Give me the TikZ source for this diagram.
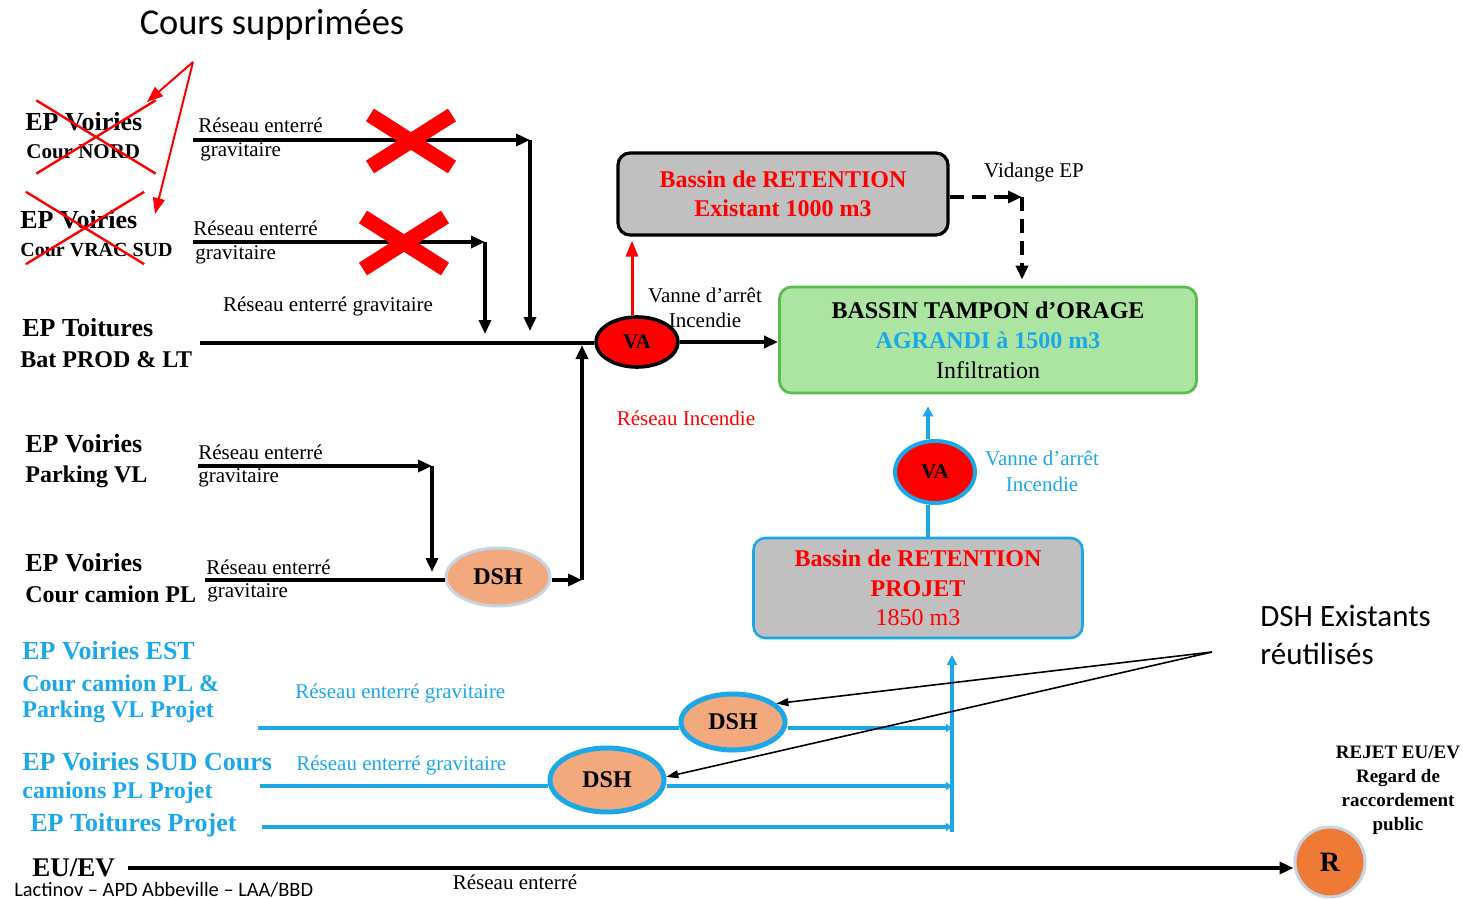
\documentclass[tikz,border=0pt]{standalone}
\usepackage{fontspec}
\setmainfont{Liberation Serif}
\newfontfamily\calibri{Carlito}
\usetikzlibrary{arrows.meta,shapes.geometric,shapes.misc}
\definecolor{cblue}{HTML}{1CA8E8}
\definecolor{cred}{HTML}{FF0000}
\definecolor{corange}{HTML}{F3A97E}
\definecolor{cgray}{HTML}{C0C0C0}
\definecolor{cgreen}{HTML}{ACE5A2}
\definecolor{cgreenb}{HTML}{57BD4C}
\definecolor{rorange}{HTML}{EE7A35}
\definecolor{cshadow}{HTML}{C5D5E6}
\newcommand\fz[1]{\fontsize{#1}{#1}\selectfont}
\begin{document}
\begin{tikzpicture}[x=0.5pt,y=-0.5pt,
 lbl/.style={inner sep=0pt,anchor=west},
 ctr/.style={inner sep=0pt},
 flow/.style={line width=2pt,-{Triangle[length=7pt,width=6pt]}},
 bline/.style={draw=cblue,line width=2pt},
 bflow/.style={draw=cblue,line width=2pt,-{Triangle[length=5pt,width=5pt]}},
 pointer/.style={line width=0.8pt,-{Triangle[length=6pt,width=4pt]}},
 redptr/.style={draw=cred,line width=1pt,-{Triangle[length=8pt,width=6pt]}},
 bigx/.style={cross out,draw=cred,line width=7.5pt,inner sep=0pt},
 thinx/.style={cross out,draw=cred,line width=1.2pt,inner sep=0pt},
 tank/.style={rounded corners=6pt,inner sep=0pt,align=center,font=\bfseries\fz{12}},
 dsh/.style={ellipse,fill=corange,inner sep=0pt,font=\bfseries\fz{12}},
 valve/.style={ellipse,fill=cred,inner sep=0pt,font=\bfseries\fz{10.5}},
 hd/.style={lbl,font=\bfseries\fz{13}},
 sub/.style={lbl,font=\bfseries\fz{12}},
 net/.style={lbl,font=\fz{10.5}},
 netc/.style={ctr,font=\fz{10.5}},
]
\path[use as bounding box] (0,0) rectangle (1463,899);

% title and red pointers
\node[ctr,font=\calibri\fz{18.2}] (titre) at (272,25) {Cours supprimées};
\coordinate (apex) at (193,62);
\coordinate (tipA) at (147,102);
\coordinate (tipB) at (155,214);

% left labels (black)
\node[hd] (nordA) at (25,122) {EP Voiries};
\node[lbl,font=\bfseries\fz{10.5}] (nordB) at (26,152) {Cour NORD};
\node[hd] (sudA) at (20,220) {EP Voiries};
\node[lbl,font=\bfseries\fz{10}] (sudB) at (20,250) {Cour VRAC SUD};
\node[hd] (toitA) at (22,328) {EP Toitures};
\node[sub] (toitB) at (20,360) {Bat PROD \& LT};
\node[hd] (parkA) at (25,444) {EP Voiries};
\node[sub] (parkB) at (25,477) {Parking VL};
\node[hd] (camA) at (25,563) {EP Voiries};
\node[sub] (camB) at (25,594) {Cour camion PL};

% left labels (blue)
\node[hd,text=cblue] (estA) at (22,651) {EP Voiries EST};
\node[sub,text=cblue] (estB) at (22,683) {Cour camion PL \&};
\node[sub,text=cblue] (estC) at (22,712) {Parking VL Projet};
\node[hd,text=cblue] (sudpA) at (22,762) {EP Voiries SUD Cours};
\node[sub,text=cblue] (sudpB) at (22,793) {camions PL Projet};
\node[hd,text=cblue] (toitp) at (30,825) {EP Toitures Projet};
\node[lbl,font=\bfseries\fz{13.5}] (euev) at (32,868) {EU/EV};
\node[lbl,font=\calibri\fz{10.2}] (cartouche) at (14,890) {Lactinov – APD Abbeville – LAA/BBD};

% crossed-out sources
\node[thinx,minimum width=58.5pt,minimum height=35.5pt] (xnord) at (96,137) {};
\node[thinx,minimum width=58pt,minimum height=35pt] (xsud) at (85,228) {};
\draw[redptr] (apex) -- (tipA);
\draw[redptr] (apex) -- (tipB);

% tanks
\node[tank,draw=black,line width=1.6pt,fill=cgray,minimum width=165pt,minimum height=41pt,text=cred] (retA) at (783,194) {Bassin de RETENTION\\[2.5pt]Existant 1000 m3};
\node[tank,draw=cgreenb,line width=1.4pt,fill=cgreen,minimum width=208.5pt,minimum height=53pt] (tampon) at (988,340) {BASSIN TAMPON d’ORAGE\\[3pt]\textcolor{cblue}{AGRANDI à 1500 m3}\\[3pt]{\mdseries Infiltration}};
\node[tank,draw=cblue,line width=1.3pt,fill=cgray,minimum width=164.5pt,minimum height=50pt,text=cred] (projet) at (918,588) {Bassin de RETENTION\\[2.7pt]PROJET\\[2.7pt]{\mdseries 1850 m3}};

% valves, separators, manhole
\node[valve,draw=black,line width=1.8pt,minimum width=41pt,minimum height=25pt] (va1) at (637,342) {VA};
\node[valve,draw=cblue,line width=2pt,minimum width=40pt,minimum height=31pt] (va2) at (935,472) {VA};
\node[dsh,draw=cshadow,line width=1.5pt,minimum width=52pt,minimum height=29pt] (dsh0) at (498,577) {DSH};
\node[dsh,draw=cblue,line width=2.5pt,minimum width=52pt,minimum height=28pt] (dsh1) at (733,722) {DSH};
\node[dsh,draw=cblue,line width=2.5pt,minimum width=57pt,minimum height=32pt] (dsh2) at (607,780) {DSH};
\node[circle,fill=rorange,draw=cshadow,line width=1.5pt,minimum size=35pt,inner sep=0pt,font=\bfseries\fz{14}] (regard) at (1330,862) {R};

% black network
\coordinate (s1) at (193,140); \coordinate (k1) at (530,140); \coordinate (e1) at (530,331);
\coordinate (s2) at (193,242); \coordinate (k2) at (485,242); \coordinate (e2) at (485,334);
\coordinate (s3) at (200,343);
\coordinate (s4) at (198,466); \coordinate (k4) at (432,466); \coordinate (e4) at (432,572);
\coordinate (s5) at (205,580);
\coordinate (k5) at (582,580); \coordinate (e5) at (582,345);
\draw[flow] (s1) -- (k1);
\draw[flow] (k1) -- (e1);
\draw[flow] (s2) -- (k2);
\draw[flow] (k2) -- (e2);
\draw[line width=2pt] (s3) -- (s3 -| va1.west);
\draw[flow] (va1.east) -- (va1.east -| tampon.west);
\draw[flow] (s4) -- (k4);
\draw[flow] (k4) -- (e4);
\draw[line width=2pt] (s5) -- (s5 -| dsh0.west);
\draw[flow] (dsh0.east |- k5) -- (k5);
\draw[flow] (k5) -- (e5);
\draw[redptr,line width=1.5pt] ([xshift=-2.5pt]va1.north) -- ([xshift=-2.5pt,yshift=-2pt]va1.north |- retA.south);

% dashed emptying
\coordinate (k6) at (1022,197);
\draw[flow,dash pattern=on 7pt off 4pt,line width=1.8pt] (k6 -| retA.east) -- (k6);
\draw[flow,dash pattern=on 7pt off 4pt,line width=1.8pt] (k6) -- ([yshift=3pt]k6 |- tampon.north);

% blue network
\coordinate (bx) at (928,0);
\draw[bline] (projet.north -| bx) -- (va2.south -| bx);
\draw[bflow] (va2.north -| bx) -- ([yshift=-6pt]tampon.south -| bx);
\coordinate (bt) at (952,832); \coordinate (bu) at (952,655);
\draw[bflow] (bt) -- (bu);
\coordinate (h1s) at (258,728); \coordinate (h1e) at (952,728);
\coordinate (h2s) at (260,786); \coordinate (h2e) at (952,786);
\coordinate (h3s) at (262,827); \coordinate (h3e) at (952,827);
\draw[bline] (h1s) -- (dsh1.west |- h1s);
\draw[bflow,-{Triangle[length=3pt,width=4pt]}] (dsh1.east |- h1s) -- (h1e);
\draw[bline] (h2s) -- (dsh2.west |- h2s);
\draw[bflow,-{Triangle[length=3pt,width=4pt]}] (dsh2.east |- h2s) -- (h2e);
\draw[bflow,-{Triangle[length=3pt,width=4pt]}] (h3s) -- (h3e);

% EU/EV
\coordinate (s9) at (128,868);
\draw[flow,line width=2.4pt] (s9) -- (s9 -| regard.west);

% pointers to reused separators
\node[lbl,font=\calibri\fz{15.5}] (dshA) at (1260,616) {DSH Existants};
\node[lbl,font=\calibri\fz{15.5}] (dshB) at (1260,654) {réutilisés};
\coordinate (ptr) at (1212,652);
\draw[pointer] (ptr) -- (dsh1.23);
\draw[pointer] (ptr) -- (dsh2.3);

% network labels
\node[net] (l1a) at (198,125) {Réseau enterré};
\node[net] (l1b) at (200,152) {gravitaire};
\node[net] (l2a) at (193,228) {Réseau enterré};
\node[net] (l2b) at (195,255) {gravitaire};
\node[netc] (l3) at (328,306) {Réseau enterré gravitaire};
\node[net] (l4a) at (198,452) {Réseau enterré};
\node[net] (l4b) at (198,478) {gravitaire};
\node[net] (l5a) at (206,567) {Réseau enterré};
\node[net] (l5b) at (207,593) {gravitaire};
\node[net,text=cblue] (l6) at (295,693) {Réseau enterré gravitaire};
\node[net,text=cblue] (l7) at (296,765) {Réseau enterré gravitaire};
\node[netc] (l8) at (515,882) {Réseau enterré};
\node[netc] (va1a) at (705,295) {Vanne d’arrêt};
\node[netc] (va1b) at (705,320) {Incendie};
\node[netc,text=cred] (inc) at (686,418) {Réseau Incendie};
\node[netc] (vid) at (1034,172) {Vidange EP};
\node[netc,text=cblue] (va2a) at (1042,458) {Vanne d’arrêt};
\node[netc,text=cblue] (va2b) at (1042,484) {Incendie};
\node[ctr,align=center,font=\bfseries\fz{9.5}] (rejet) at (1398,790) {REJET EU/EV\\[2.5pt]Regard de\\[2.5pt]raccordement\\[2.5pt]public};

% removed networks
\node[bigx,minimum width=33.5pt,minimum height=18.5pt] (x1) at (411,141) {};
\node[bigx,minimum width=33.5pt,minimum height=18.5pt] (x2) at (404,243) {};
\end{tikzpicture}
\end{document}
